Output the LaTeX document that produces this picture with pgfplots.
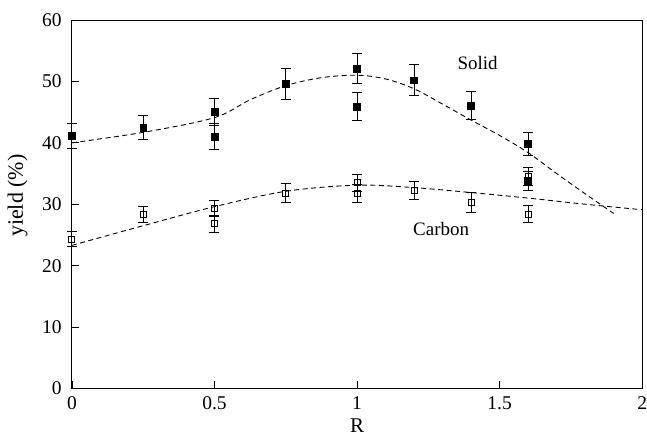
\documentclass[border=0pt]{standalone}
\usepackage{fontspec}
\setmainfont{Liberation Serif}
\usepackage{pgfplots}
\pgfplotsset{compat=1.18}
\usepackage{pgfplotstable}
\pgfplotstableread{
x y e
0    41.1 2.1
0.25 42.5 2.0
0.5  45.0 2.2
0.5  41.0 2.1
0.75 49.6 2.5
1.0  52.1 2.5
1.0  45.9 2.3
1.2  50.2 2.5
1.4  46.1 2.3
1.6  39.8 1.8
1.6  33.8 1.6
}\solid
\pgfplotstableread{
x y e
0    24.3 1.2
0.25 28.3 1.3
0.5  29.3 1.3
0.5  26.8 1.4
0.75 31.8 1.5
1.0  33.5 1.4
1.0  31.7 1.5
1.2  32.2 1.5
1.4  30.3 1.6
1.6  34.5 1.4
1.6  28.4 1.4
}\carbon
\begin{document}
\begin{tikzpicture}
\begin{axis}[
  name=ax,
  scale only axis,
  width=571bp, height=369bp,
  xmin=0, xmax=2, ymin=0, ymax=60,
  xtick={0,0.5,1,1.5,2},
  ytick={0,10,20,30,40,50,60},
  xticklabels={0,0.5,1,1.5,2},
  tick align=inside,
  xtick pos=bottom, ytick pos=left,
  major tick length=7bp,
  axis line style={line width=0.9bp},
  tick style={line width=0.8bp, black},
  /pgf/number format/assume math mode=true,
  tick label style={font=\fontsize{19.5bp}{22bp}\selectfont},
  xticklabel style={inner sep=0pt, anchor=north, yshift=-8bp},
  yticklabel style={inner sep=0pt, anchor=east, xshift=-10bp},
  xlabel={R},
  ylabel={yield (\%)},
  xlabel style={font=\fontsize{21bp}{24bp}\selectfont, at={(axis description cs:0.5,-0.1)}, anchor=center, inner sep=0pt},
  ylabel style={font=\fontsize{22bp}{25bp}\selectfont, at={(axis description cs:-0.0954,0.523)}, anchor=center, inner sep=0pt},
  clip=false,
]
\addplot[black, line width=0.9bp, dash pattern=on 5bp off 3.5bp, smooth, tension=0.55] coordinates {
(0,40.0)(0.25,41.7)(0.5,44.1)(0.625,47.0)(0.75,49.3)(0.875,50.6)(1.0,51.0)(1.1,50.4)(1.2,48.8)(1.3,46.3)(1.4,43.7)(1.5,41.2)(1.6,38.4)(1.7,35.0)(1.8,31.7)(1.9,28.5)};
\addplot[black, line width=0.9bp, dash pattern=on 5bp off 3.5bp, smooth, tension=0.55] coordinates {
(0,23.3)(0.25,26.5)(0.5,29.6)(0.75,32.1)(1.0,33.1)(1.2,32.7)(1.4,31.9)(1.6,31.0)(1.8,30.0)(2.0,29.1)};
\addplot[only marks, mark=square*, mark size=3.4bp, mark options={fill=black, draw=black},
  error bars/.cd, y dir=both, y explicit,
  error bar style={black, line width=1bp},
  error mark options={rotate=90, mark size=5bp, line width=1bp, black}]
  table[x=x, y=y, y error=e] {\solid};
\addplot[only marks, mark=square, mark size=3bp, mark options={fill=white, draw=black, line width=0.9bp},
  error bars/.cd, y dir=both, y explicit,
  error bar style={black, line width=1bp},
  error mark options={rotate=90, mark size=5bp, line width=1bp, black}]
  table[x=x, y=y, y error=e] {\carbon};
\node[font=\fontsize{19bp}{22bp}\selectfont] at (axis cs:1.423,53.0) {Solid};
\node[font=\fontsize{19bp}{22bp}\selectfont] at (axis cs:1.295,25.9) {Carbon};
\end{axis}
\path ([shift={(-72bp,-50bp)}]ax.south west) rectangle ([shift={(4bp,20bp)}]ax.north east);
\end{tikzpicture}
\end{document}
